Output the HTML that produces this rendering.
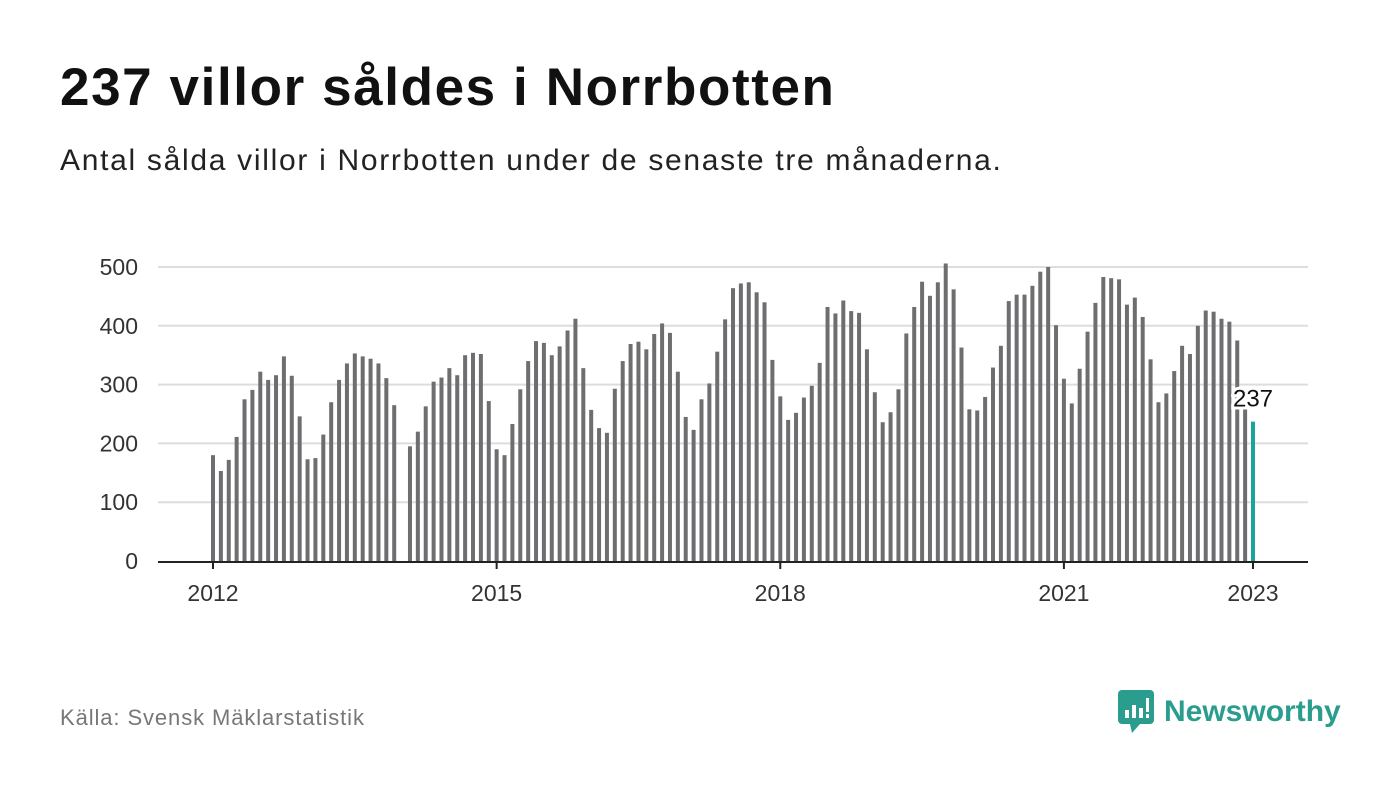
<!DOCTYPE html>
<html><head><meta charset="utf-8"><style>
body{margin:0;background:#fff;font-family:"Liberation Sans",sans-serif;}
#wrap{position:relative;width:1400px;height:794px;overflow:hidden;}
h1{position:absolute;left:60px;top:57px;margin:0;font-size:53px;font-weight:bold;color:#111;letter-spacing:1.6px;}
.sub{position:absolute;left:60px;top:144px;font-size:30px;color:#222;letter-spacing:1.7px;}
.src{position:absolute;left:60px;top:705px;font-size:22px;color:#777;letter-spacing:0.9px;}
.logo{position:absolute;left:1118px;top:690px;display:flex;align-items:center;}
.logo span{font-size:30px;font-weight:bold;color:#2a9d8f;margin-left:10px;}
</style></head><body>
<div id="wrap">
<h1>237 villor såldes i Norrbotten</h1>
<div class="sub">Antal sålda villor i Norrbotten under de senaste tre månaderna.</div>
<svg id="chart" width="1400" height="794" style="position:absolute;left:0;top:0"></svg>
<div class="src">Källa: Svensk Mäklarstatistik</div>
<div class="logo">
<svg width="36" height="44"><rect x="0" y="0" width="36" height="34" rx="4" fill="#2a9d8f"/><polygon points="12,34 22,34 14,43" fill="#2a9d8f"/><rect x="7" y="20" width="4" height="8" fill="#fff"/><rect x="14" y="15" width="4" height="13" fill="#fff"/><rect x="21" y="18" width="4" height="10" fill="#fff"/><rect x="28" y="8" width="3" height="14" fill="#fff"/><rect x="28" y="24" width="3" height="4" fill="#fff"/></svg>
<span>Newsworthy</span></div>
</div>
<script>
const years=["2012","2013","2014","2015","2016","2017","2018","2019","2020","2021","2022","2023"];
const values=[
180,153,172,211,275,291,322,308,316,348,315,246,
173,175,215,270,308,336,353,348,344,336,311,265,
null,195,220,263,305,312,328,316,350,354,352,272,
190,180,233,292,340,374,371,350,365,392,412,328,
257,226,218,293,340,369,373,360,386,404,388,322,
245,223,275,302,356,411,464,472,474,457,440,342,
280,240,252,278,298,337,432,421,443,425,422,360,
287,236,253,292,387,432,475,451,474,506,462,363,
258,256,279,329,366,442,453,453,468,492,500,401,
310,268,327,390,439,483,481,479,436,448,415,343,
270,285,323,366,352,400,426,424,412,407,375,260,
237];
const yTicks=[0,100,200,300,400,500];
const xTickLabels=["2012","2015","2018","2021","2023"];
const xTickIdx=[0,36,72,108,132];
const NS="http://www.w3.org/2000/svg";
const svg=document.getElementById('chart');
const x0=213,x1=1253,y0=561,y500=267;
const xs=i=>x0+(x1-x0)*i/132;
const ys=v=>y0-(y0-y500)*v/500;
function mk(t,a){const e=document.createElementNS(NS,t);for(const k in a)e.setAttribute(k,a[k]);svg.appendChild(e);return e;}
yTicks.forEach(t=>{
  if(t>0){const g=mk('line',{x1:158,x2:1308,y1:ys(t),y2:ys(t),stroke:'#ddd','stroke-width':2});
  
  }
  const l=mk('text',{x:138,y:ys(t)+8,'text-anchor':'end','font-size':23,fill:'#333','font-family':'Liberation Sans, sans-serif'});
  l.textContent=t;
  
  
});
values.forEach((v,i)=>{
  if(v==null)return;
  const last=i===values.length-1;
  const r=mk('rect',{x:xs(i)-2,y:ys(v),width:4,height:y0-ys(v),fill:last?'#1aa59a':'#6e6e70'});
  
  
});
const ax=mk('line',{x1:158,x2:1308,y1:y0+1,y2:y0+1,stroke:'#222','stroke-width':2});


xTickIdx.forEach((idx,k)=>{
  const tk=mk('line',{x1:xs(idx),x2:xs(idx),y1:y0,y2:y0+8,stroke:'#222','stroke-width':2});
  
  
  const l=mk('text',{x:xs(idx),y:601,'text-anchor':'middle','font-size':23,fill:'#333','font-family':'Liberation Sans, sans-serif'});
  l.textContent=xTickLabels[k];
  
  
});
const lv=values[values.length-1];
const lab=mk('text',{x:xs(132),y:ys(lv)-15,'text-anchor':'middle','font-size':24,fill:'#111',stroke:'#fff','stroke-width':6,'paint-order':'stroke','font-family':'Liberation Sans, sans-serif'});
lab.textContent=lv;


</script>
</body></html>
